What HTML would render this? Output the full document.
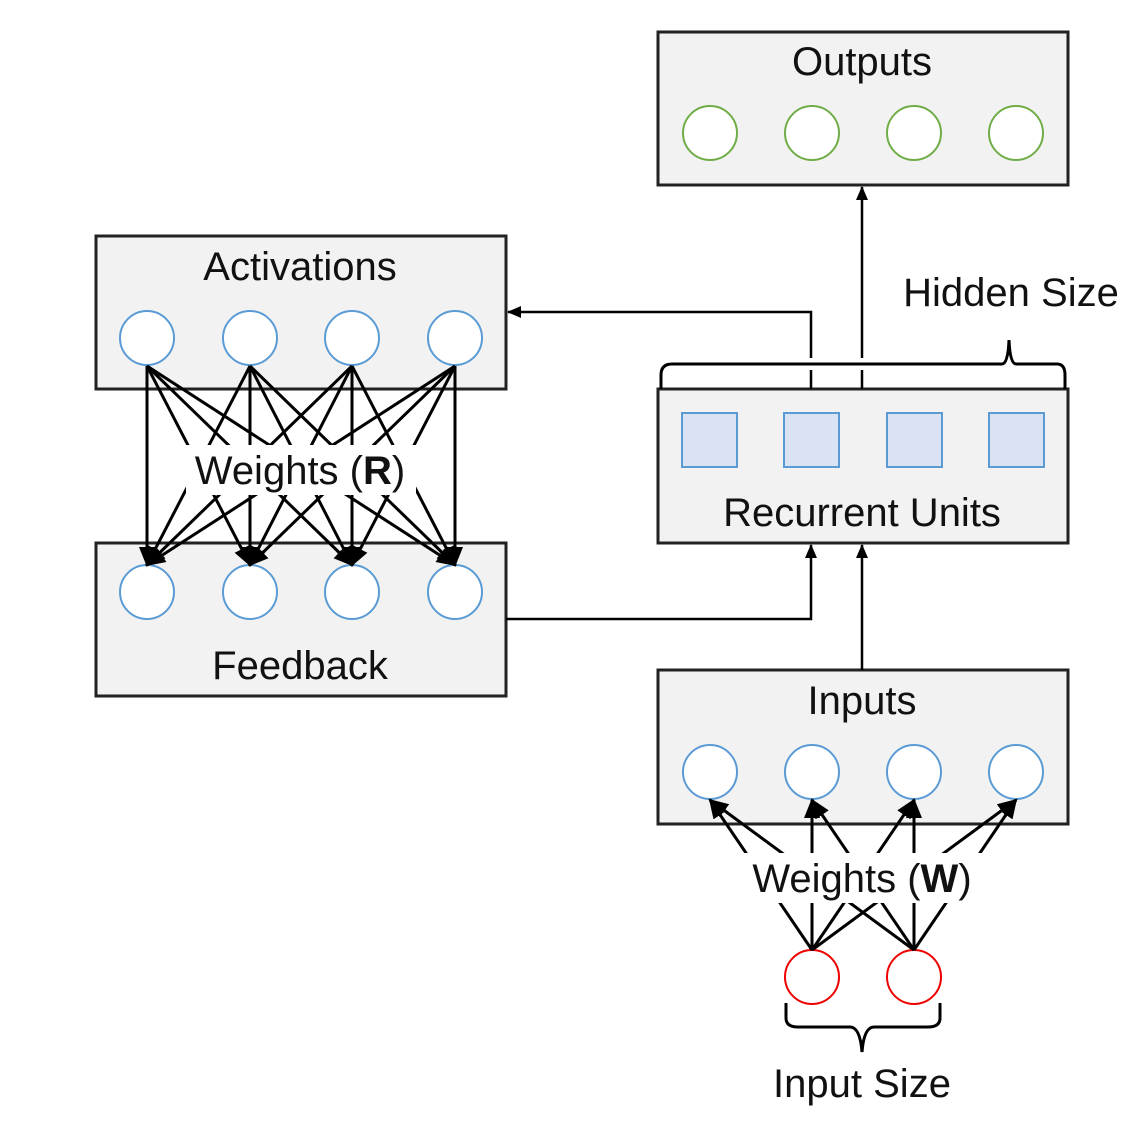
<!DOCTYPE html>
<html><head><style>body{margin:0;background:#fff}svg{display:block}text{font-family:"Liberation Sans",Arial,sans-serif;font-size:40px;fill:#111}</style></head>
<body>
<svg width="1142" height="1125" viewBox="0 0 1142 1125" xmlns="http://www.w3.org/2000/svg">
<defs>
<marker id="a" markerWidth="14" markerHeight="14" refX="13" refY="7" orient="auto" markerUnits="userSpaceOnUse" viewBox="0 0 14 14"><path d="M0,1 L14,7 L0,13 z" fill="#000"/></marker>
<marker id="b" markerWidth="20" markerHeight="20" refX="18" refY="10" orient="auto" markerUnits="userSpaceOnUse" viewBox="0 0 20 20"><path d="M0,2 L20,10 L0,18 z" fill="#000"/></marker>
</defs>
<g fill="#f2f2f2" stroke="#222" stroke-width="3">
<rect x="658" y="32" width="410" height="153"/>
<rect x="96" y="236" width="410" height="153"/>
<rect x="96" y="543" width="410" height="153"/>
<rect x="658" y="389" width="410" height="154"/>
<rect x="658" y="670" width="410" height="154"/>
</g>
<text x="862" y="75" text-anchor="middle">Outputs</text>
<text x="300" y="280" text-anchor="middle">Activations</text>
<text x="862" y="526" text-anchor="middle">Recurrent Units</text>
<text x="300" y="679" text-anchor="middle">Feedback</text>
<text x="862" y="714" text-anchor="middle">Inputs</text>
<text x="1011" y="306" text-anchor="middle">Hidden Size</text>
<text x="862" y="1097" text-anchor="middle">Input Size</text>
<g fill="#fff" stroke="#70ad47" stroke-width="2">
<circle cx="710" cy="133" r="27"/><circle cx="812" cy="133" r="27"/><circle cx="914" cy="133" r="27"/><circle cx="1016" cy="133" r="27"/>
</g>
<g fill="#fff" stroke="#5b9bd5" stroke-width="2">
<circle cx="147" cy="338" r="27"/><circle cx="250" cy="338" r="27"/><circle cx="352" cy="338" r="27"/><circle cx="455" cy="338" r="27"/>
<circle cx="147" cy="592" r="27"/><circle cx="250" cy="592" r="27"/><circle cx="352" cy="592" r="27"/><circle cx="455" cy="592" r="27"/>
<circle cx="710" cy="772" r="27"/><circle cx="812" cy="772" r="27"/><circle cx="914" cy="772" r="27"/><circle cx="1016" cy="772" r="27"/>
</g>
<g fill="#dae3f3" stroke="#5b9bd5" stroke-width="2">
<rect x="682" y="413" width="55" height="54"/><rect x="784" y="413" width="55" height="54"/><rect x="887" y="413" width="55" height="54"/><rect x="989" y="413" width="55" height="54"/>
</g>
<g fill="#fff" stroke="#e00" stroke-width="2">
<circle cx="812" cy="977" r="27"/><circle cx="914" cy="977" r="27"/>
</g>
<g stroke="#000" stroke-width="3" marker-end="url(#b)">
<line x1="147" y1="366" x2="147" y2="565"/><line x1="147" y1="366" x2="250" y2="565"/><line x1="147" y1="366" x2="352" y2="565"/><line x1="147" y1="366" x2="455" y2="565"/>
<line x1="250" y1="366" x2="147" y2="565"/><line x1="250" y1="366" x2="250" y2="565"/><line x1="250" y1="366" x2="352" y2="565"/><line x1="250" y1="366" x2="455" y2="565"/>
<line x1="352" y1="366" x2="147" y2="565"/><line x1="352" y1="366" x2="250" y2="565"/><line x1="352" y1="366" x2="352" y2="565"/><line x1="352" y1="366" x2="455" y2="565"/>
<line x1="455" y1="366" x2="147" y2="565"/><line x1="455" y1="366" x2="250" y2="565"/><line x1="455" y1="366" x2="352" y2="565"/><line x1="455" y1="366" x2="455" y2="565"/>
</g>
<rect x="186" y="445" width="230" height="50" fill="#fff"/>
<text x="300" y="484" text-anchor="middle">Weights (<tspan font-weight="bold">R</tspan>)</text>
<g stroke="#000" stroke-width="3" marker-end="url(#b)">
<line x1="812" y1="950" x2="710" y2="800"/><line x1="812" y1="950" x2="812" y2="800"/><line x1="812" y1="950" x2="914" y2="800"/><line x1="812" y1="950" x2="1016" y2="800"/>
<line x1="914" y1="950" x2="710" y2="800"/><line x1="914" y1="950" x2="812" y2="800"/><line x1="914" y1="950" x2="914" y2="800"/><line x1="914" y1="950" x2="1016" y2="800"/>
</g>
<rect x="742" y="853" width="242" height="50" fill="#fff"/>
<text x="862" y="892" text-anchor="middle">Weights (<tspan font-weight="bold">W</tspan>)</text>
<g stroke="#000" stroke-width="2.5" fill="none">
<polyline points="506,619 811,619 811,545" marker-end="url(#a)"/>
<line x1="862" y1="670" x2="862" y2="545" marker-end="url(#a)"/>
<line x1="862" y1="389" x2="862" y2="187" marker-end="url(#a)"/>
<polyline points="811,389 811,312 508,312" marker-end="url(#a)"/>
</g>
<g stroke="#fff" stroke-width="6"><line x1="811" y1="358" x2="811" y2="370"/><line x1="862" y1="358" x2="862" y2="370"/></g>
<g stroke="#000" stroke-width="3" fill="none">
<path d="M661,389 L661,375 Q661,364 672,364 L1002,364 Q1008,364 1009,340 Q1010,364 1016,364 L1057,364 Q1065,364 1065,375 L1065,389"/>
<path d="M786,1003 L786,1018 Q786,1027 798,1027 L850,1027 Q860,1027 862,1052 Q864,1027 874,1027 L928,1027 Q940,1027 940,1018 L940,1003"/>
</g>
</svg>
</body></html>
